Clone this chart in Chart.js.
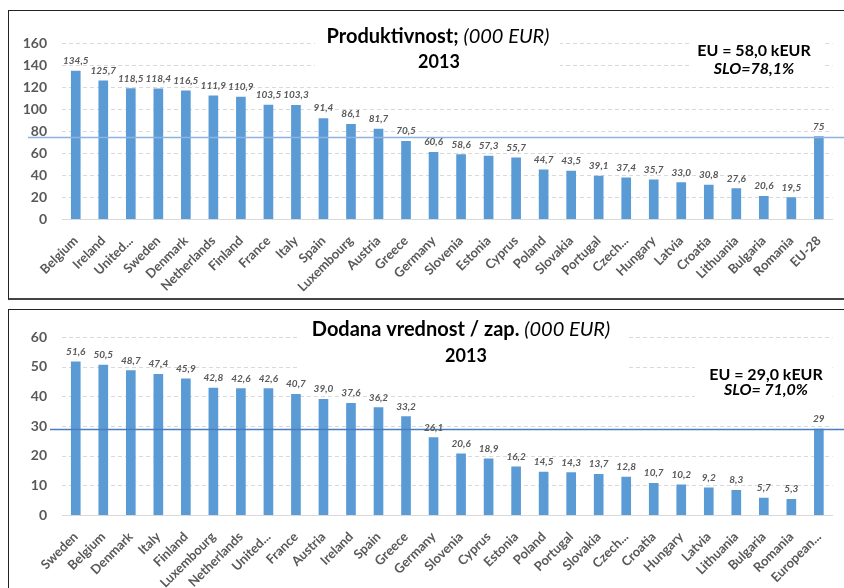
<!DOCTYPE html>
<html><head><meta charset="utf-8">
<script src="https://cdn.jsdelivr.net/npm/chart.js@4.4.1/dist/chart.umd.min.js"></script>
<style>
html,body{margin:0;padding:0;background:#fff;width:844px;height:588px;overflow:hidden;position:relative}
.box{position:absolute;border-left:1px solid #222;border-top:1px solid #222;border-bottom:2px solid #444;box-sizing:border-box}
#b1{left:8px;top:10px;width:840px;height:290px}
#b2{left:8px;top:309px;width:840px;height:300px}
canvas{position:absolute;left:0}
#c1{top:0;width:844px;height:298px}
#c2{top:300px;width:844px;height:288px}
</style></head><body>
<div class="box" id="b1"></div><div class="box" id="b2"></div>
<canvas id="c1" width="844" height="298"></canvas>
<canvas id="c2" width="844" height="288"></canvas>
<script>
// ---- Data: Produktivnost (000 EUR), 2013 ----
const prodCategories = ['Belgium','Ireland','United...','Sweden','Denmark','Netherlands','Finland','France','Italy','Spain','Luxembourg','Austria','Greece','Germany','Slovenia','Estonia','Cyprus','Poland','Slovakia','Portugal','Czech...','Hungary','Latvia','Croatia','Lithuania','Bulgaria','Romania','EU-28'];
const prodValues = [134.5,125.7,118.5,118.4,116.5,111.9,110.9,103.5,103.3,91.4,86.1,81.7,70.5,60.6,58.6,57.3,55.7,44.7,43.5,39.1,37.4,35.7,33.0,30.8,27.6,20.6,19.5,75];
const prodRefValue = 75;
const prodTitle = ['Produktivnost; ', '(000 EUR)', '2013'];
const prodNote = ['EU = 58,0 kEUR', 'SLO=78,1%'];
const prodTicks = {min: 0, max: 160, step: 20};

// ---- Data: Dodana vrednost / zap. (000 EUR), 2013 ----
const vaCategories = ['Sweden','Belgium','Denmark','Italy','Finland','Luxembourg','Netherlands','United...','France','Austria','Ireland','Spain','Greece','Germany','Slovenia','Cyprus','Estonia','Poland','Portugal','Slovakia','Czech...','Croatia','Hungary','Latvia','Lithuania','Bulgaria','Romania','European...'];
const vaValues = [51.6,50.5,48.7,47.4,45.9,42.8,42.6,42.6,40.7,39.0,37.6,36.2,33.2,26.1,20.6,18.9,16.2,14.5,14.3,13.7,12.8,10.7,10.2,9.2,8.3,5.7,5.3,29];
const vaRefValue = 29;
const vaTitle = ['Dodana vrednost / zap. ', '(000 EUR)', '2013'];
const vaNote = ['EU = 29,0 kEUR', 'SLO= 71,0%'];
const vaTicks = {min: 0, max: 60, step: 10};

const FONT = 'Lato';
const GRAY = '#595959';
const BAR = '#5b9bd5';

function fmt(v, i, n) {
  if (i === n - 1) return String(Math.round(v));
  return v.toFixed(1).replace('.', ',');
}

function makeOverlay(cfg) {
  return {
    id: 'overlay_' + cfg.key,
    beforeDatasetsDraw(chart) {
      const ctx = chart.ctx;
      const ys = chart.scales.y;
      const a = chart.chartArea;
      ctx.save();
      // dashed grid lines from the y scale ticks
      ctx.strokeStyle = '#d9d9d9';
      ctx.lineWidth = 1;
      ctx.setLineDash([4, 3]);
      ys.ticks.forEach(t => {
        if (t.value === 0) return;
        const y = Math.round(ys.getPixelForValue(t.value)) + 0.5;
        ctx.beginPath();
        ctx.moveTo(a.left, y);
        ctx.lineTo(a.right, y);
        ctx.stroke();
      });
      ctx.setLineDash([]);
      ctx.fillStyle = '#fff';
      cfg.rects.forEach(r => ctx.fillRect(r[0], r[1], r[2] - r[0], r[3] - r[1]));
      ctx.restore();
    },
    afterDatasetsDraw(chart) {
      const ctx = chart.ctx;
      const ys = chart.scales.y;
      ctx.save();
      // reference line
      const ly = Math.round(ys.getPixelForValue(cfg.ref)) + 0.5;
      ctx.strokeStyle = cfg.lineColor;
      ctx.lineWidth = 1.3;
      ctx.beginPath();
      ctx.moveTo(cfg.lineX0, ly);
      ctx.lineTo(chart.width, ly);
      ctx.stroke();
      // data labels
      const meta = chart.getDatasetMeta(0);
      const data = chart.data.datasets[0].data;
      ctx.font = 'italic bold 10px ' + FONT;
      ctx.fillStyle = GRAY;
      ctx.textAlign = 'center';
      ctx.textBaseline = 'alphabetic';
      meta.data.forEach((el, i) => {
        ctx.fillText(fmt(data[i], i, data.length), el.x, el.y - 7);
      });
      // title
      const t = cfg.title;
      ctx.textAlign = 'left';
      ctx.fillStyle = '#000';
      const fB = 'bold 20px ' + FONT, fI = 'italic 20px ' + FONT;
      ctx.font = fB; const w1 = ctx.measureText(t[0]).width;
      ctx.font = fI; const w2 = ctx.measureText(t[1]).width;
      let x = cfg.t1x - (w1 + w2) / 2;
      ctx.font = fB; ctx.fillText(t[0], x, cfg.t1y);
      ctx.font = fI; ctx.fillText(t[1], x + w1, cfg.t1y);
      ctx.textAlign = 'center';
      ctx.font = 'bold 18px ' + FONT; ctx.fillText(t[2], cfg.t2x, cfg.t2y);
      // note
      ctx.font = 'bold 16px ' + FONT;
      ctx.fillText(cfg.note[0], cfg.nx, cfg.n1y);
      ctx.font = 'italic bold 16px ' + FONT;
      ctx.fillText(cfg.note[1], cfg.nx, cfg.n2y);
      ctx.restore();
    }
  };
}

function makeChart(id, cats, vals, ticks, areaTop, areaBottom, canvasH, overlay) {
  return new Chart(document.getElementById(id), {
    type: 'bar',
    data: {
      labels: cats,
      datasets: [{ data: vals, backgroundColor: BAR, barThickness: 9 }]
    },
    options: {
      responsive: false,
      animation: false,
      devicePixelRatio: 1,
      layout: { padding: { left: 0, right: 6, top: areaTop, bottom: 0 } },
      plugins: { legend: { display: false }, tooltip: { enabled: false } },
      scales: {
        x: {
          offset: true,
          grid: { display: false, drawTicks: false },
          border: { display: true, color: '#d9d9d9', width: 1 },
          ticks: {
            autoSkip: false, maxRotation: 45, minRotation: 45, padding: 14,
            color: GRAY, font: { family: FONT, weight: 'bold', size: 13 }
          },
          afterFit(s) { s.height = canvasH - areaBottom; }
        },
        y: {
          min: ticks.min, max: ticks.max,
          grid: { display: false, drawTicks: false },
          border: { display: false },
          ticks: {
            stepSize: ticks.step, padding: 15,
            color: GRAY, font: { family: FONT, weight: 'bold', size: 14 }
          },
          afterFit(s) { s.width = 62; }
        }
      }
    },
    plugins: [overlay]
  });
}

makeChart('c1', prodCategories, prodValues, prodTicks, 43, 219, 298, makeOverlay({
  key: 'p', ref: prodRefValue, lineColor: '#8db3e2', lineX0: 28,
  title: prodTitle, t1x: 438, t1y: 43, t2x: 439, t2y: 68,
  note: prodNote, nx: 754, n1y: 56, n2y: 74,
  rects: [[315, 24, 560, 76], [689, 38, 825, 79]]
}));

makeChart('c2', vaCategories, vaValues, vaTicks, 37, 215, 288, makeOverlay({
  key: 'v', ref: vaRefValue, lineColor: '#4a7cc0', lineX0: 50,
  title: vaTitle, t1x: 461, t1y: 36, t2x: 466, t2y: 62,
  note: vaNote, nx: 766, n1y: 80, n2y: 95,
  rects: [[300, 16, 629, 74], [695, 60, 830, 102]]
}));
</script>
</body></html>
